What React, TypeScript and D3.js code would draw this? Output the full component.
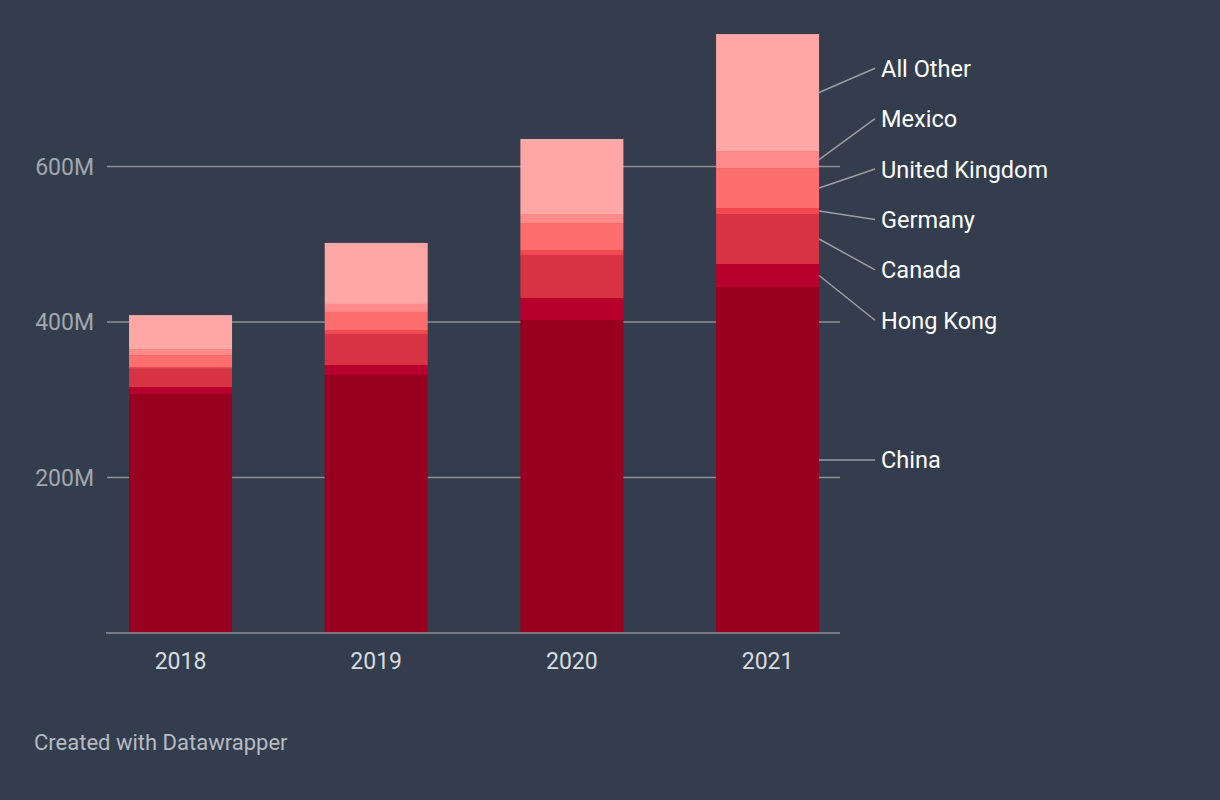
import * as d3 from 'd3';

const years = ['2018', '2019', '2020', '2021'];
const countries = ['China', 'Hong Kong', 'Canada', 'Germany', 'United Kingdom', 'Mexico', 'All Other'];

// values in millions, bottom to top of each bar
const china = [307.4, 331.8, 402.6, 445.0];
const hongKong = [9.0, 12.9, 28.3, 29.6];
const canada = [23.5, 39.9, 55.3, 64.3];
const germany = [2.2, 5.1, 6.4, 7.7];
const unitedKingdom = [15.4, 23.2, 34.7, 51.4];
const mexico = [7.7, 10.3, 11.6, 21.9];
const allOther = [43.7, 78.5, 96.5, 150.5];

const yTicks = [200, 400, 600];
const colors = ['#99001f', '#b8002e', '#d73343', '#f24a50', '#ff6e6e', '#ff8a8a', '#ffa6a6'];

const W = 1220;
const H = 800;
const bg = '#333d4d';
const font = 'Roboto, "Noto Sans", sans-serif';

const series = [china, hongKong, canada, germany, unitedKingdom, mexico, allOther];

// spread labels apart so they keep a minimum gap, centred on the wanted positions
function spreadLabels(wanted: number[], gap: number) {
	const order = wanted.map((y, i) => ({ y, i })).sort((a, b) => a.y - b.y);
	let groups = order.map((o) => ({ items: [o], pos: o.y }));
	let changed = true;
	while (changed) {
		changed = false;
		for (let k = 0; k < groups.length - 1; k++) {
			const a = groups[k];
			const b = groups[k + 1];
			const aEnd = a.pos + ((a.items.length - 1) * gap) / 2;
			const bStart = b.pos - ((b.items.length - 1) * gap) / 2;
			if (bStart - aEnd < gap) {
				const items = a.items.concat(b.items);
				const pos = d3.mean(items, (d) => d.y) as number;
				groups.splice(k, 2, { items, pos });
				changed = true;
				break;
			}
		}
	}
	const out: number[] = [];
	groups.forEach((g) => {
		g.items.forEach((it, j) => {
			out[it.i] = g.pos - ((g.items.length - 1) * gap) / 2 + j * gap;
		});
	});
	return out;
}

export default function App() {
	const rows = years.map((year, i) => {
		const r: Record<string, number | string> = { year };
		countries.forEach((c, k) => (r[c] = series[k][i]));
		return r;
	});

	const stacked = d3.stack<any>().keys(countries)(rows);

	const y = d3.scaleLinear().domain([0, 600]).range([633, 166.5]);
	const x = d3
		.scaleBand<string>()
		.domain(years)
		.range([82.7, 865.4])
		.paddingInner(0.4736)
		.paddingOuter(0.2368);

	const gridX0 = 107;
	const gridX1 = 840;

	// label positions for the last bar
	const last = years.length - 1;
	const barRight = (x(years[last]) as number) + x.bandwidth();
	const mids = stacked.map((s) => (y(s[last][0]) + y(s[last][1])) / 2);
	const labelYs = spreadLabels(mids, 50.4);

	return (
		<div style={{ position: 'absolute', left: 0, top: 0, width: W, height: H }}>
			<svg width={W} height={H} style={{ display: 'block', background: bg }}>
				<rect width={W} height={H} fill={bg} />
				{yTicks.map((t) => (
					<g key={t}>
						<line x1={gridX0} x2={gridX1} y1={y(t)} y2={y(t)} stroke="#8c9098" strokeWidth={1.5} />
						<text
							x={94}
							y={y(t)}
							dy="0.36em"
							textAnchor="end"
							fill="#a3a7ae"
							fontFamily={font}
							fontSize={23}
						>
							{t}M
						</text>
					</g>
				))}
				{stacked.map((s, k) => (
					<g key={s.key} fill={colors[k]}>
						{s.map((d, i) => (
							<rect
								key={i}
								x={x(years[i])}
								width={x.bandwidth()}
								y={y(d[1])}
								height={y(d[0]) - y(d[1])}
							/>
						))}
					</g>
				))}
				<line x1={gridX0 - 1} x2={gridX1} y1={y(0)} y2={y(0)} stroke="#8c9098" strokeWidth={1.5} />
				{years.map((yr) => (
					<text
						key={yr}
						x={(x(yr) as number) + x.bandwidth() / 2}
						y={668.5}
						textAnchor="middle"
						fill="#d8dbe0"
						fontFamily={font}
						fontSize={23}
					>
						{yr}
					</text>
				))}
				{countries.map((c, k) => (
					<g key={c}>
						<line
							x1={barRight}
							y1={mids[k]}
							x2={barRight + 56}
							y2={labelYs[k]}
							stroke="#9a9ea5"
							strokeWidth={1.5}
						/>
						<text
							x={barRight + 62}
							y={labelYs[k]}
							dy="0.36em"
							fill="#ffffff"
							fontFamily={font}
							fontSize={23.5}
						>
							{c}
						</text>
					</g>
				))}
				<text x={34} y={750} fill="#b7bbc2" fontFamily={font} fontSize={22}>
					Created with Datawrapper
				</text>
			</svg>
		</div>
	);
}
